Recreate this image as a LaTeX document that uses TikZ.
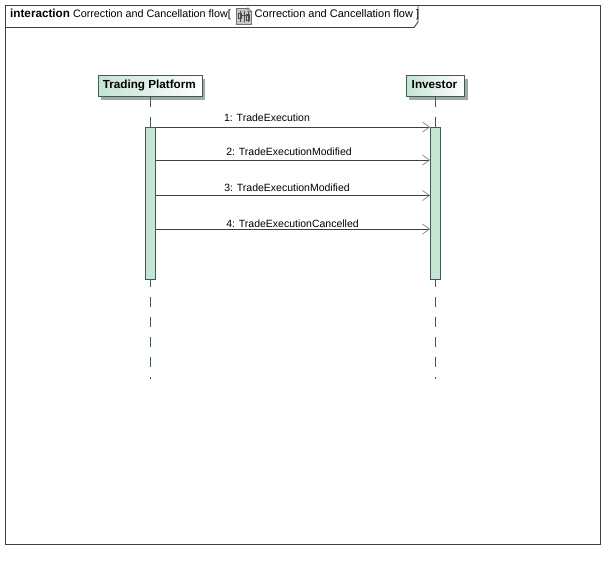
\documentclass[tikz,border=0pt]{standalone}
\usepackage{fontspec}
\setmainfont{Liberation Sans}
\usepackage{tikz}
\usetikzlibrary{arrows.meta}

\definecolor{lineGreen}{RGB}{62,92,80}
\definecolor{barGreen}{RGB}{196,228,212}

\begin{document}
\begin{tikzpicture}[x = 1pt, y = -1pt,
		actor/.style = {draw=lineGreen, line width=0.9pt, left color=barGreen, right color=white, inner sep=0pt, text height=8.5pt, text depth=4pt, minimum height=21pt, font=\fontsize{11.7}{13}\selectfont\bfseries},
		shade/.style = {fill=black!35, draw=none, inner sep=0pt, minimum height=21pt},
		bar/.style = {draw=lineGreen, line width=0.9pt, fill=barGreen, inner sep=0pt, minimum width=10pt, minimum height=152pt},
		lifeline/.style = {draw=lineGreen, line width=0.9pt, dash pattern=on 10pt off 10pt},
		message/.style = {draw=black!75, line width=0.8pt, -{Straight Barb[length=7pt, width=10pt, black!55, line width=0.6pt]}},
		msglabel/.style = {inner sep=0pt, font=\fontsize{10.5}{12}\selectfont},
		framelabel/.style = {inner sep=0pt, anchor=west, font=\fontsize{11}{13}\selectfont},
	]
		\useasboundingbox (0,0) rectangle (615,584);
		\fill[white] (0,0) rectangle (615,584);

		% frame and its tab
		\draw[black!75, line width=0.9pt] (5.5,5.5) rectangle (600.7,544.5);
		\draw[black!75, line width=0.9pt] (5.5,27.5) -- (414,27.5) -- (418,22) -- (418,5.5);
		\node[framelabel] (title) at (10,14.5) {{\fontsize{11.7}{13}\selectfont\bfseries interaction} {\fontsize{10.75}{13}\selectfont Correction and Cancellation flow[}};
		\node[framelabel] (subtitle) at (254.5,14.5) {Correction and Cancellation flow ]};

		% small diagram icon
		\node[draw=black!55, fill=black!22, line width=0.6pt, inner sep=0pt, minimum width=15pt, minimum height=16pt] (icon) at (244,16) {};
		\fill[white] (248,7.7) -- (251.8,7.7) -- (251.8,11.5) -- cycle;
		\draw[black!55, line width=0.6pt] (248,7.7) -- (248,11.5) -- (251.8,11.5) -- cycle;
		\draw[black!70, line width=0.6pt] (240,10.5) -- (240,21.5) (244,10.5) -- (244,21.5) (248,12) -- (248,21.5);
		\draw[black!70, line width=0.6pt] (238.5,13.5) rectangle (241.5,18) (246.5,14.5) rectangle (249.5,20) (240,15) -- (248,15);

		% lifelines
		\node[shade, minimum width=104pt] (tpShade) at (153.3,89) {};
		\node[shade, minimum width=58.4pt] (invShade) at (438.5,89) {};
		\node[actor, minimum width=104pt] (tp) at (150.3,86) {Trading Platform\hspace*{2pt}};
		\node[actor, minimum width=58.4pt] (inv) at (435.5,86) {Investor\hspace*{2pt}};
		\coordinate (tpEnd) at (150.3,379);
		\coordinate (invEnd) at (435.5,379);
		\draw[lifeline] (tp.south) -- (tpEnd);
		\draw[lifeline] (inv.south) -- (invEnd);
		\node[bar] (tpBar) at (150.3,203.5) {};
		\node[bar] (invBar) at (435.5,203.5) {};

		% messages
		\draw[message] (tpBar.north east) -- (invBar.north west);
		\draw[message] ([yshift=-33pt]tpBar.north east) -- ([yshift=-33pt]invBar.north west);
		\draw[message] ([yshift=-68.5pt]tpBar.north east) -- ([yshift=-68.5pt]invBar.north west);
		\draw[message] ([yshift=-102pt]tpBar.north east) -- ([yshift=-102pt]invBar.north west);

		\node[msglabel] (m1) at (267,117.5) {1: TradeExecution};
		\node[msglabel] (m2) at (289,152) {2: TradeExecutionModified};
		\node[msglabel] (m3) at (287,188) {3: TradeExecutionModified};
		\node[msglabel] (m4) at (292.5,223.5) {4: TradeExecutionCancelled};
	\end{tikzpicture}
\end{document}
